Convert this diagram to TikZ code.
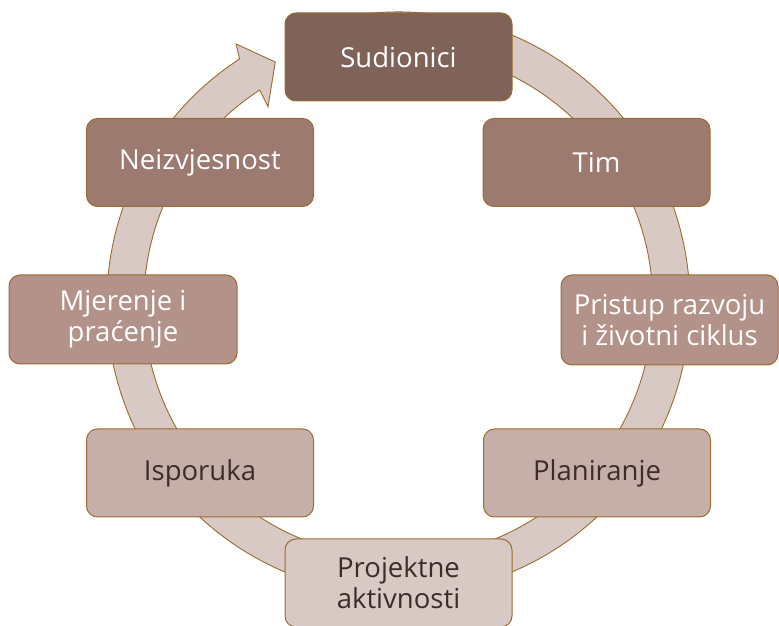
\documentclass[tikz,border=0pt]{standalone}
\usepackage{fontspec}
\setmainfont{Open Sans}
\definecolor{edge}{HTML}{9C6B2F}
\definecolor{ringfill}{HTML}{D9C9C5}
\definecolor{shadeA}{HTML}{7F6358}
\definecolor{shadeB}{HTML}{9C7A6F}
\definecolor{shadeC}{HTML}{B39289}
\definecolor{shadeD}{HTML}{C6AFA8}
\definecolor{shadeE}{HTML}{D9C9C5}
\definecolor{darktext}{HTML}{3B2E29}
\tikzset{
  stage/.style={draw=edge, line width=1pt, rounded corners=11pt,
    minimum width=227pt, minimum height=88pt, inner sep=2pt,
    align=center, font=\fontsize{27.5}{31}\selectfont},
  light/.style={text=white},
  dark/.style={text=darktext},
}
\begin{document}
\begin{tikzpicture}[x=1pt,y=1pt]
\useasboundingbox (0,0) rectangle (779,626);
% circular band with its arrowhead
\begin{scope}[shift={(398.3,322.5)}]
  \filldraw[fill=ringfill, draw=edge, line width=0.9pt, line join=miter]
    (105:291.5) arc[start angle=105, end angle=-237, radius=291.5]
    -- (122:306) -- (117:271) -- (123.5:236) -- (123:254.5)
    arc[start angle=-237, end angle=105, radius=254.5] -- cycle;
\end{scope}
% stages of the cycle
\node[stage, light, fill=shadeA] (sud) at (398.5,569) {Sudionici};
\node[stage, light, fill=shadeB] (tim) at (596.5,463.5) {Tim};
\node[stage, light, fill=shadeC, minimum width=217pt, minimum height=90pt] (pri) at (669.5,306) {Pristup razvoju\\i životni ciklus};
\node[stage, dark, fill=shadeD] (pla) at (597,153) {Planiranje};
\node[stage, dark, fill=shadeE] (pro) at (398.5,43) {Projektne\\aktivnosti};
\node[stage, dark, fill=shadeD] (isp) at (200,153) {Isporuka};
\node[stage, light, fill=shadeC, minimum width=228pt, minimum height=89pt] (mje) at (123,306.5) {Mjerenje i\\praćenje};
\node[stage, light, fill=shadeB] (nei) at (200,463.5) {Neizvjesnost};
\end{tikzpicture}
\end{document}
